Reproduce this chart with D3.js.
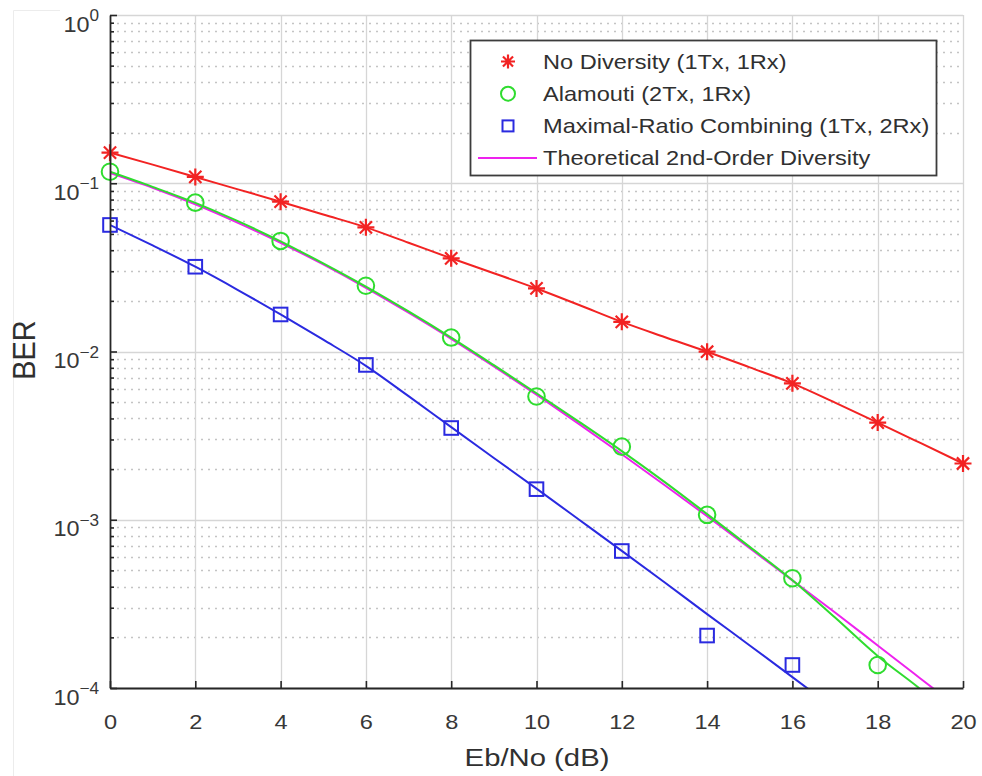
<!DOCTYPE html>
<html>
<head>
<meta charset="utf-8">
<script src="https://cdn.jsdelivr.net/npm/d3@7"></script>
<style>
  html, body { margin: 0; padding: 0; background: #fff; }
  svg { display: block; font-family: "Liberation Sans", Arial, Helvetica, sans-serif; }
</style>
</head>
<body>
<svg id="chart" width="982" height="776"></svg>
<script>
// Eb/No points where the simulations were run (dB)
const ebnoSim = [0, 2, 4, 6, 8, 10, 12, 14, 16, 18, 20];
// Simulated BER for each scheme (null = no errors counted)
const berNoDiversity = [0.152, 0.109, 0.0777, 0.0547, 0.0358, 0.0237, 0.0150, 0.00997, 0.00647, 0.00378, 0.00216];
const berAlamouti    = [0.117, 0.0767, 0.0454, 0.0246, 0.0121, 0.0054, 0.00272, 0.00107, 0.000449, 0.000137, null];
const berMRC         = [0.0565, 0.0319, 0.0166, 0.00832, 0.00351, 0.00152, 0.000652, 0.000205, 0.000137, null, null];

// Curve grid (1 dB steps) for the fitted and theoretical curves
const ebnoCurve = [0, 1, 2, 3, 4, 5, 6, 7, 8, 9, 10, 11, 12, 13, 14, 15, 16, 17, 18, 19, 20];
const fitNoDiversity = [0.152, 0.129, 0.109, 0.092, 0.0777, 0.0652, 0.0547, 0.0443, 0.0358, 0.0292, 0.0237,
                        0.0189, 0.0150, 0.0122, 0.00997, 0.00805, 0.00647, 0.00497, 0.00378, 0.00286, 0.00216];
const fitAlamouti = [0.117, 0.0952, 0.0765, 0.0595, 0.0452, 0.0334, 0.0243, 0.0173, 0.0121, 0.0083, 0.00565,
                     0.00382, 0.00256, 0.00168, 0.00108, 0.00069, 0.000437, 0.000262, 0.000155, 0.0000985, 0.0000600];
const fitMRC = [0.0565, 0.0427, 0.0319, 0.0232, 0.0166, 0.01175, 0.00822, 0.00543, 0.00355, 0.00233, 0.00153,
                0.00100, 0.000653, 0.000425, 0.000275, 0.000179, 0.000116, 0.0000752];
const theory2ndOrder = [0.115, 0.0939, 0.0749, 0.0582, 0.0443, 0.0329, 0.0239, 0.0170, 0.0119, 0.00816, 0.00553,
                        0.00370, 0.00245, 0.00161, 0.00105, 0.000677, 0.000436, 0.000281, 0.000179, 0.000114, 0.0000726];

// Axis ticks
const xTicks = [0, 2, 4, 6, 8, 10, 12, 14, 16, 18, 20];
const yMajor = [1, 1e-1, 1e-2, 1e-3, 1e-4];
const yExponents = [0, -1, -2, -3, -4];

const legendLabels = [
  "No Diversity (1Tx, 1Rx)",
  "Alamouti (2Tx, 1Rx)",
  "Maximal-Ratio Combining (1Tx, 2Rx)",
  "Theoretical 2nd-Order Diversity"
];

const colors = { red: "#f22323", green: "#2fdc2f", blue: "#2a2ae0", magenta: "#ee22ee" };

const svg = d3.select("#chart");
const plot = { left: 110, right: 963, top: 15, bottom: 688 };

const x = d3.scaleLinear().domain([0, 20]).range([plot.left, plot.right]);
const y = d3.scaleLog().domain([1e-4, 1]).range([plot.bottom, plot.top]);

// faint figure frame edge
svg.append("path")
  .attr("d", `M13.5,776V10.5H60`)
  .attr("fill", "none").attr("stroke", "#ececec").attr("stroke-width", 1);

// minor ticks of the log axis (2..9 in each decade)
const yMinor = [];
for (let e = -4; e < 0; e++) for (let m = 2; m <= 9; m++) yMinor.push(m * Math.pow(10, e));

// grid
const grid = svg.append("g");
grid.selectAll(".ymin").data(yMinor).join("line")
  .attr("x1", plot.left).attr("x2", plot.right)
  .attr("y1", d => Math.round(y(d)) + 0.5).attr("y2", d => Math.round(y(d)) + 0.5)
  .attr("stroke", "#c4c4c4").attr("stroke-width", 1.3).attr("stroke-dasharray", "2,5");
grid.selectAll(".ymaj").data(yMajor).join("line")
  .attr("x1", plot.left).attr("x2", plot.right)
  .attr("y1", d => Math.round(y(d)) + 0.5).attr("y2", d => Math.round(y(d)) + 0.5)
  .attr("stroke", "#d6d6d6").attr("stroke-width", 1.3);
grid.selectAll(".xmaj").data(xTicks.slice(1)).join("line")
  .attr("x1", d => Math.round(x(d)) + 0.5).attr("x2", d => Math.round(x(d)) + 0.5)
  .attr("y1", plot.top).attr("y2", plot.bottom)
  .attr("stroke", "#d6d6d6").attr("stroke-width", 1.3);

// clip for curves
svg.append("clipPath").attr("id", "plotClip")
  .append("rect").attr("x", plot.left).attr("y", plot.top)
  .attr("width", plot.right - plot.left).attr("height", plot.bottom - plot.top);

const line = d3.line()
  .defined(d => d[1] != null)
  .x(d => x(d[0])).y(d => y(d[1]))
  .curve(d3.curveMonotoneX);

const curves = svg.append("g").attr("clip-path", "url(#plotClip)");
function curve(xs, ys, color) {
  curves.append("path")
    .datum(ys.map((v, i) => [xs[i], v]))
    .attr("d", line)
    .attr("fill", "none").attr("stroke", color).attr("stroke-width", 2)
    .attr("stroke-linejoin", "round");
}
curve(ebnoCurve, theory2ndOrder, colors.magenta);
curve(ebnoCurve, fitNoDiversity, colors.red);
curve(ebnoCurve, fitAlamouti, colors.green);
curve(ebnoCurve.slice(0, fitMRC.length), fitMRC, colors.blue);

// marker shapes
const starPath = r => {
  const d = r * 0.72;
  return `M${-r},0L${r},0M0,${-r}L0,${r}M${-d},${-d}L${d},${d}M${-d},${d}L${d},${-d}`;
};
function drawMarker(g, type, cx, cy, size) {
  if (type === "star") {
    g.append("path").attr("d", starPath(size))
      .attr("transform", `translate(${cx},${cy})`)
      .attr("fill", "none").attr("stroke", colors.red).attr("stroke-width", 2.2);
  } else if (type === "circle") {
    g.append("circle").attr("cx", cx).attr("cy", cy).attr("r", size)
      .attr("fill", "none").attr("stroke", colors.green).attr("stroke-width", 2);
  } else if (type === "square") {
    g.append("rect").attr("x", cx - size).attr("y", cy - size)
      .attr("width", 2 * size).attr("height", 2 * size)
      .attr("fill", "none").attr("stroke", colors.blue).attr("stroke-width", 2);
  }
}

const markers = svg.append("g");
[[berNoDiversity, "star", 8.5], [berAlamouti, "circle", 8.3], [berMRC, "square", 6.8]].forEach(([vals, type, s]) => {
  vals.forEach((v, i) => {
    if (v != null) drawMarker(markers, type, x(ebnoSim[i]), y(v), s);
  });
});

// x axis
const xAxis = svg.append("g")
  .attr("transform", `translate(0,${plot.bottom})`)
  .call(d3.axisBottom(x).tickValues(xTicks).tickSizeInner(-7).tickSizeOuter(0).tickFormat(d3.format("d")));
xAxis.select(".domain").attr("stroke", "#262626").attr("stroke-width", 1.8);
xAxis.selectAll(".tick line").attr("stroke", "#262626").attr("stroke-width", 1.6);
xAxis.selectAll(".tick text")
  .attr("y", 0).attr("dy", null)
  .attr("transform", "translate(0,40.5) scale(1.15,1)")
  .attr("font-size", 20.5).attr("fill", "#383838").attr("font-family", "Liberation Sans, Arial, sans-serif");

// y axis: major and minor ticks pointing inward
const yAxisMinor = svg.append("g")
  .attr("transform", `translate(${plot.left},0)`)
  .call(d3.axisLeft(y).tickValues(yMinor).tickSizeInner(-4).tickSizeOuter(0).tickFormat(""));
yAxisMinor.select(".domain").remove();
yAxisMinor.selectAll(".tick line").attr("stroke", "#262626").attr("stroke-width", 1.6);

const yAxis = svg.append("g")
  .attr("transform", `translate(${plot.left},0)`)
  .call(d3.axisLeft(y).tickValues(yMajor).tickSizeInner(-7).tickSizeOuter(0).tickFormat(""));
yAxis.select(".domain").attr("stroke", "#262626").attr("stroke-width", 1.8);
yAxis.selectAll(".tick line").attr("stroke", "#262626").attr("stroke-width", 1.6);

// y tick labels: 10 with superscript exponent
const yLabels = svg.append("g");
yMajor.forEach((v, i) => {
  const t = yLabels.append("text")
    .attr("transform", `translate(99,${y(v) + 16.5}) scale(1.04,1)`)
    .attr("text-anchor", "end")
    .attr("fill", "#383838").attr("font-size", 22.5);
  t.append("tspan").text("10");
  t.append("tspan").attr("dy", -10.5).attr("font-size", 16.5)
    .text(yExponents[i] < 0 ? "\u2212" + Math.abs(yExponents[i]) : String(yExponents[i]));
});

// axis titles
svg.append("text")
  .attr("transform", `translate(537,766) scale(1.22,1)`)
  .attr("text-anchor", "middle").attr("font-size", 24).attr("fill", "#303030")
  .text("Eb/No (dB)");
svg.append("text")
  .attr("transform", `translate(35,350) rotate(-90) scale(1,1.06)`)
  .attr("text-anchor", "middle").attr("font-size", 29).attr("fill", "#303030")
  .text("BER");

// legend
const legend = svg.append("g");
legend.append("rect")
  .attr("x", 470.5).attr("y", 40.5).attr("width", 466).attr("height", 135)
  .attr("fill", "#fff").attr("stroke", "#3c3c3c").attr("stroke-width", 1.8);
const legendTypes = ["star", "circle", "square", "line"];
legendLabels.forEach((label, i) => {
  const base = 68.5 + i * 32.2;
  const cy = base - 7;
  if (legendTypes[i] === "line") {
    legend.append("line").attr("x1", 478).attr("x2", 537).attr("y1", cy).attr("y2", cy)
      .attr("stroke", colors.magenta).attr("stroke-width", 2);
  } else {
    drawMarker(legend, legendTypes[i], 508, cy, legendTypes[i] === "square" ? 5.5 : 7);
  }
  legend.append("text")
    .attr("transform", `translate(543,${base}) scale(1.15,1)`)
    .attr("font-size", 20.5).attr("fill", "#303030")
    .text(label);
});
</script>
</body>
</html>
